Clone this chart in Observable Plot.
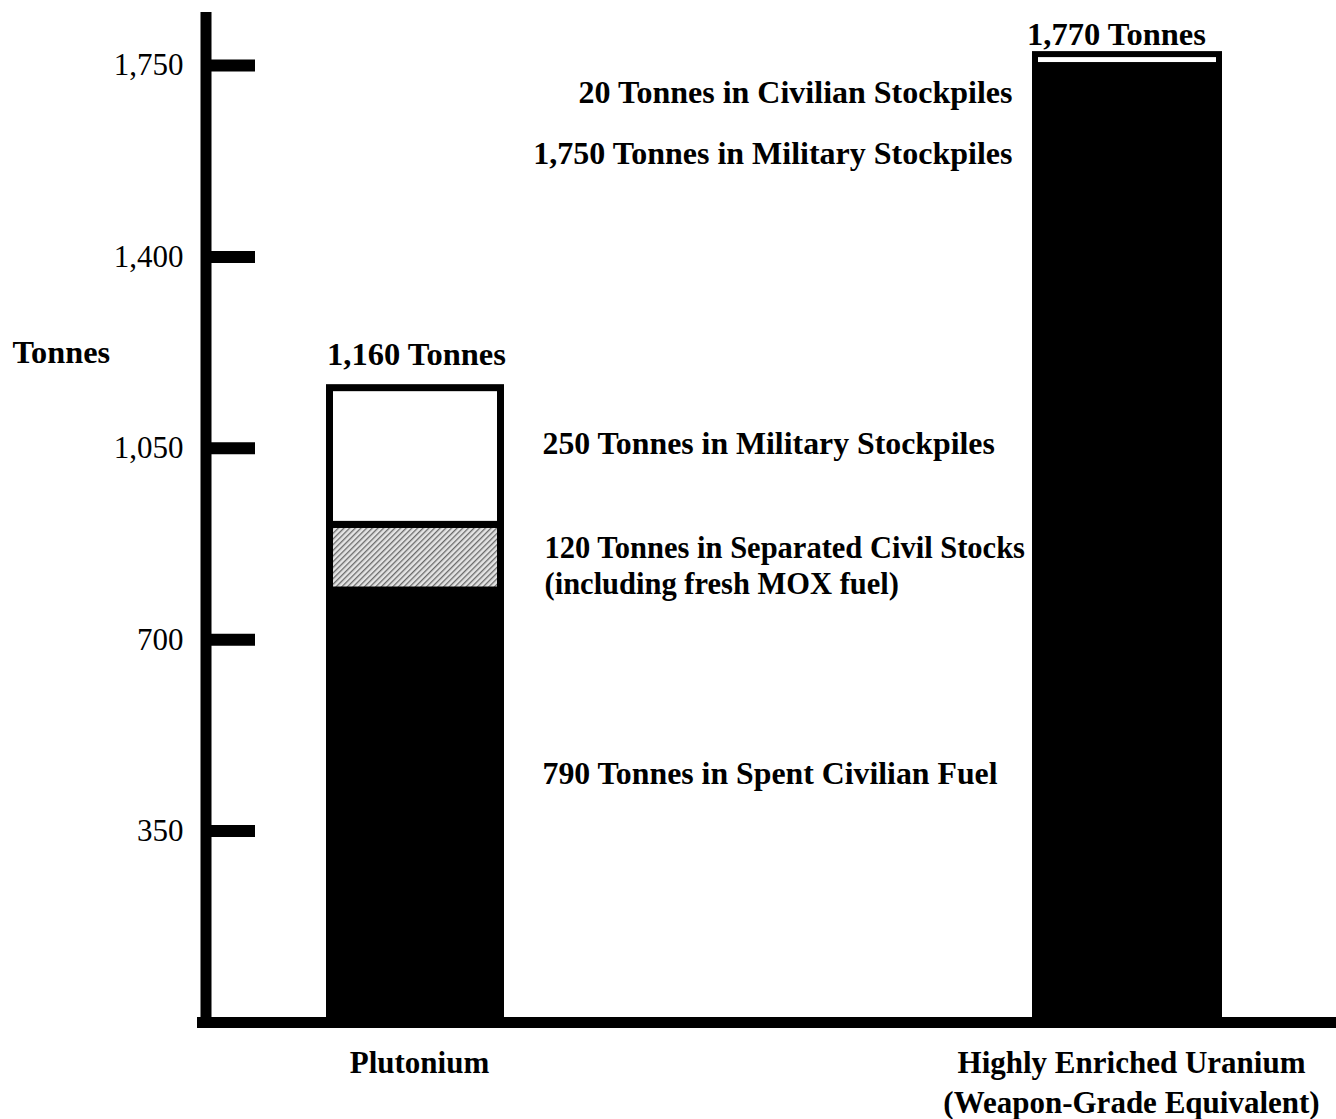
<!DOCTYPE html>
<html><head><meta charset="utf-8">
<script src="https://cdn.jsdelivr.net/npm/d3@7"></script>
<script src="https://cdn.jsdelivr.net/npm/@observablehq/plot@0.6"></script>
<style>html,body{margin:0;padding:0;background:#fff}#chart svg{display:block}</style>
</head><body><div id="chart"></div>
<script>
// ---- data ----
const materials = ["Plutonium", "Highly Enriched Uranium"];
const materialLabels = ["Plutonium", "Highly Enriched Uranium\n(Weapon-Grade Equivalent)"];
const totals = [1160, 1770];

const plutoniumSegments = ["Spent Civilian Fuel", "Separated Civil Stocks", "Military Stockpiles"];
const plutoniumTonnes = [790, 120, 250];

const heuSegments = ["Military Stockpiles", "Civilian Stockpiles"];
const heuTonnes = [1750, 20];

const yTicks = [350, 700, 1050, 1400, 1750];

const plutoniumLabels = [
  "250 Tonnes in Military Stockpiles",
  "120 Tonnes in Separated Civil Stocks\n(including fresh MOX fuel)",
  "790 Tonnes in Spent Civilian Fuel"
];
const plutoniumLabelAt = [1059, 838, 455];   // tonnes level where each label sits

const heuLabels = ["20 Tonnes in Civilian Stockpiles", "1,750 Tonnes in Military Stockpiles"];
const heuLabelAt = [1700, 1588];

const yAxisLabel = "Tonnes";
const yAxisLabelAt = 1225;
const yTop = 1847;

// ---- tables ----
const puRows = plutoniumSegments.map((s, i) => ({material: materials[0], key: "Pu " + s, tonnes: plutoniumTonnes[i]}));
const heuRows = heuSegments.map((s, i) => ({material: materials[1], key: "HEU " + s, tonnes: heuTonnes[i]}));
const puLabelRows = plutoniumLabels.map((t, i) => ({material: materials[0], text: t, at: plutoniumLabelAt[i], multi: t.includes("\n")}));
const heuLabelRows = heuLabels.map((t, i) => ({material: materials[1], text: t, at: heuLabelAt[i]}));
const totalRows = materials.map((m, i) => ({material: m, total: totals[i], label: d3.format(",")(totals[i]) + " Tonnes"}));
const catRows = materials.map((m, i) => ({material: m, label: materialLabels[i]}));

const fmt = d3.format(",");
const serif = "'Liberation Serif', 'Times New Roman', Times, serif";
const FS = 31;

const chart = Plot.plot({
  width: 1336,
  height: 1119,
  marginLeft: 206,
  marginRight: 0,
  marginTop: 12,
  marginBottom: 97,
  style: {fontFamily: serif, fontSize: FS + "px", background: "white", overflow: "visible"},
  x: {domain: materials, paddingInner: 0.7418, paddingOuter: 0.1639, axis: null},
  y: {domain: [0, yTop], axis: null},
  color: {
    type: "ordinal",
    domain: ["Pu Spent Civilian Fuel", "Pu Separated Civil Stocks", "Pu Military Stockpiles", "HEU Military Stockpiles", "HEU Civilian Stockpiles"],
    range: ["black", "url(#stipple)", "white", "black", "white"]
  },
  marks: [
    Plot.barY(puRows, {x: "material", y: "tonnes", fill: "key", stroke: "black", strokeWidth: 7, insetLeft: 6.5, insetRight: 6.5}),
    Plot.barY(heuRows, {x: "material", y: "tonnes", fill: "key", stroke: "black", strokeWidth: 6}),
    // axes
    Plot.rect([0], {y1: 0, y2: yTop, insetLeft: -5.5, insetRight: 1130 - 5.5, fill: "black"}),
    Plot.ruleY([0], {strokeWidth: 11, insetLeft: -9, stroke: "black"}),
    Plot.tickY(yTicks, {y: d => d, strokeWidth: 12, insetLeft: -4, insetRight: 1130 - 49, stroke: "black"}),
    Plot.text(yTicks, {y: d => d, text: d => fmt(d), frameAnchor: "left", dx: -23, textAnchor: "end", fontSize: FS, fill: "black"}),
    Plot.text([yAxisLabel], {y: () => yAxisLabelAt, text: d => d, frameAnchor: "left", dx: -194, textAnchor: "start", fontSize: 32.3, fontWeight: "bold", fill: "black"}),
    // totals
    Plot.text(totalRows.slice(0, 1), {x: "material", y: "total", text: "label", dy: -34, dx: 1, fontSize: 32.5, fontWeight: "bold", fill: "black"}),
    Plot.text(totalRows.slice(1), {x: "material", y: "total", text: "label", dy: -20, dx: -11, fontSize: 32.5, fontWeight: "bold", fill: "black"}),
    // segment labels
    Plot.text(puLabelRows.filter(d => !d.multi), {x: "material", y: "at", text: "text", dx: 127, textAnchor: "start", fontSize: 31.8, fontWeight: "bold", fill: "black"}),
    Plot.text(puLabelRows.filter(d => d.multi), {x: "material", y: "at", text: "text", dx: 129, textAnchor: "start", lineHeight: 1.19, fontSize: 30.5, fontWeight: "bold", fill: "black"}),
    Plot.text(heuLabelRows, {x: "material", y: "at", text: "text", dx: -115, textAnchor: "end", fontSize: 32, fontWeight: "bold", fill: "black"}),
    // category labels
    Plot.text(catRows, {x: "material", text: "label", frameAnchor: "bottom", dy: 23, dx: 4, lineAnchor: "top", lineHeight: 1.27, fontSize: FS, fontWeight: "bold", fill: "black"})
  ]
});

const defs = document.createElementNS("http://www.w3.org/2000/svg", "defs");
defs.innerHTML = '<pattern id="stipple" width="4" height="4" patternUnits="userSpaceOnUse" patternTransform="rotate(45)">' +
  '<rect width="4" height="4" fill="#e4e4e4"/><rect width="1.3" height="4" fill="#6a6a6a"/></pattern>';
chart.insertBefore(defs, chart.firstChild);
document.getElementById("chart").appendChild(chart);
</script>
</body></html>
